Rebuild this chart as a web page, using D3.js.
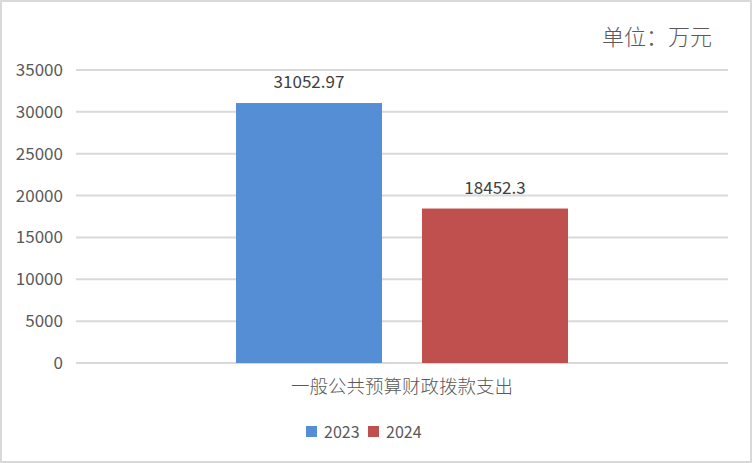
<!DOCTYPE html>
<html>
<head>
<meta charset="utf-8">
<script src="https://cdn.jsdelivr.net/npm/d3@7"></script>
<style>
  body { margin: 0; background: #fff; }
  svg text { font-family: "Noto Sans CJK SC", "Noto Sans", sans-serif; fill: #595959; }
</style>
</head>
<body>
<svg id="chart" width="752" height="463"></svg>
<script>
// data
const category = '一般公共预算财政拨款支出'
const years = ['2023', '2024']
const values = [31052.97, 18452.3]
const valueLabels = ['31052.97', '18452.3']
const yTicks = [0, 5000, 10000, 15000, 20000, 25000, 30000, 35000]
const colors = ['#558ed5', '#c0504d']

const svg = d3.select('svg#chart')

// frame
svg.append('rect')
    .attr('x', 1).attr('y', 1)
    .attr('width', 750).attr('height', 461)
    .attr('fill', '#fff')
    .attr('stroke', '#d9d9d9')
    .attr('stroke-width', 2)

let plotLeft = 76, plotRight = 728, plotTop = 70, plotBottom = 363

let y = d3.scaleLinear().domain([0, 35000]).range([plotBottom, plotTop])
let x0 = d3.scaleBand().domain([category]).range([plotLeft, plotRight])
let x1 = d3.scaleBand().domain(years).range([236, 568]).paddingInner(40 / 186)

// gridlines
svg.append('g')
    .selectAll('line')
    .data(yTicks)
    .enter()
    .append('line')
    .attr('x1', plotLeft).attr('x2', plotRight)
    .attr('y1', d => y(d)).attr('y2', d => y(d))
    .attr('stroke', '#d9d9d9')
    .attr('stroke-width', 2)

// y axis labels
let yAxis = d3.axisLeft(y).tickValues(yTicks).tickSize(0).tickPadding(13).tickFormat(d3.format('d'))
let ag = svg.append('g')
    .attr('transform', `translate(${plotLeft},0)`)
    .call(yAxis)
ag.select('.domain').remove()
ag.selectAll('text')
    .attr('font-size', 17)
    .attr('font-family', '"Noto Sans", sans-serif')
    .attr('fill', '#595959')

// bars
svg.append('g')
    .selectAll('rect')
    .data(values)
    .enter()
    .append('rect')
    .attr('x', (d, i) => x1(years[i]))
    .attr('width', x1.bandwidth())
    .attr('y', d => y(d))
    .attr('height', d => plotBottom - y(d))
    .attr('fill', (d, i) => colors[i])

// value labels
svg.append('g')
    .selectAll('text')
    .data(values)
    .enter()
    .append('text')
    .attr('x', (d, i) => x1(years[i]) + x1.bandwidth() / 2)
    .attr('y', d => y(d) - 15)
    .attr('text-anchor', 'middle')
    .attr('font-size', 17)
    .style('fill', '#404040')
    .text((d, i) => valueLabels[i])

// category label
svg.append('text')
    .attr('x', x0(category) + x0.bandwidth() / 2)
    .attr('y', 393)
    .attr('text-anchor', 'middle')
    .attr('font-size', 18.5)
    .attr('font-weight', 300)
    .text(category)

// unit label
svg.append('text')
    .attr('x', 712)
    .attr('y', 45)
    .attr('text-anchor', 'end')
    .attr('font-size', 22)
    .attr('font-weight', 300)
    .text('单位：万元')

// legend
let lg = svg.append('g')
    .selectAll('g')
    .data(years)
    .enter()
    .append('g')
    .attr('transform', (d, i) => `translate(${306 + i * 62},426)`)
lg.append('rect')
    .attr('width', 11).attr('height', 11)
    .attr('fill', (d, i) => colors[i])
lg.append('text')
    .attr('x', 18).attr('y', 12)
    .attr('font-size', 16)
    .attr('font-family', '"Noto Sans", sans-serif')
    .text(d => d)
</script>
</body>
</html>
